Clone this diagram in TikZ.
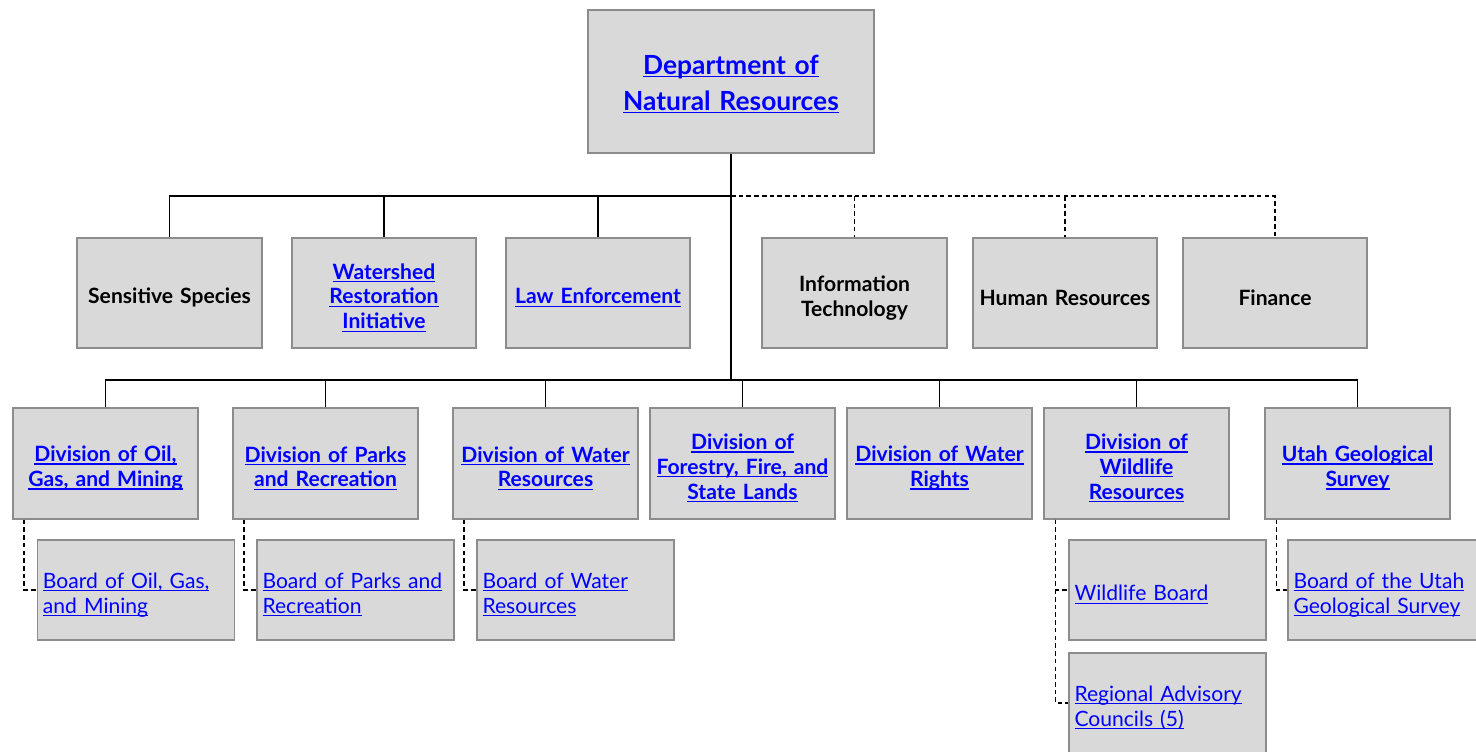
\documentclass[tikz,border=0pt]{standalone}
\usepackage{fontspec}
\setmainfont{Lato}
\usetikzlibrary{positioning}
\definecolor{box_gray}{RGB}{217,217,217}
\definecolor{edge_gray}{RGB}{140,140,140}
\definecolor{link_blue}{RGB}{0,0,255}
\newcommand{\lnk}[1]{\textcolor{link_blue}{\setbox0\hbox{#1}\rlap{\rule[-1.7pt]{\wd0}{0.7pt}}\box0}}

\begin{document}
\begin{tikzpicture}[x=0.2mm,y=-0.2mm,line width=1pt]
    \tikzstyle{unit}=[draw=edge_gray, line width=1pt, fill=box_gray, inner sep=0pt, minimum width=36.9mm, minimum height=22.1mm, text width=36mm, align=center, text=black, font=\bfseries\fontsize{12}{14.2}\selectfont, execute at begin node={\rule{0pt}{14.2pt}}]
    \tikzstyle{board}=[style=unit, minimum width=39.4mm, minimum height=20mm, text width=37.2mm, align=left, font=\fontsize{12}{14.2}\selectfont]
    \tikzstyle{staff}=[dash pattern=on 2.6pt off 1.8pt]

    \useasboundingbox (0,0) rectangle (1476,752);

    \node[unit, minimum width=57.2mm, minimum height=28.6mm, text width=55mm, font=\bfseries\fontsize{15}{20.5}\selectfont, execute at begin node={\rule{0pt}{14pt}}] (dnr) at (731,81.5) {\lnk{Department of}\\\lnk{Natural Resources}};

    % offices
    \node[unit] (ss)  at (169.5,293) {Sensitive Species};
    \node[unit] (wri) at (384,293)   {\lnk{Watershed}\\\lnk{Restoration}\\\lnk{Initiative}};
    \node[unit] (law) at (598,293)   {\lnk{Law Enforcement}};
    \node[unit] (it)  at (854.5,293) {Information\\Technology};
    \node[unit] (hr)  at (1065,293)  {Human Resources};
    \node[unit] (fin) at (1275,293)  {Finance};

    % divisions
    \node[unit] (ogm)      at (105.5,463.5)  {\lnk{Division of Oil,}\\\lnk{Gas, and Mining}};
    \node[unit] (parks)    at (325.5,463.5)  {\lnk{Division of Parks}\\\lnk{and Recreation}};
    \node[unit] (water)    at (545.5,463.5)  {\lnk{Division of Water}\\\lnk{Resources}};
    \node[unit] (forest)   at (742.5,463.5)  {\lnk{Division of}\\\lnk{Forestry, Fire, and}\\\lnk{State Lands}};
    \node[unit] (rights)   at (939.5,463.5)  {\lnk{Division of Water}\\\lnk{Rights}};
    \node[unit] (wildlife) at (1136.5,463.5) {\lnk{Division of}\\\lnk{Wildlife}\\\lnk{Resources}};
    \node[unit] (ugs)      at (1357.5,463.5) {\lnk{Utah Geological}\\\lnk{Survey}};

    % boards
    \node[board] (ogmb)   at (136,590)    {\lnk{Board of Oil, Gas,}\\\lnk{and Mining}};
    \node[board] (parksb) at (355.5,590)  {\lnk{Board of Parks and}\\\lnk{Recreation}};
    \node[board] (waterb) at (575.5,590)  {\lnk{Board of Water}\\\lnk{Resources}};
    \node[board] (wb)     at (1167.5,590) {\lnk{Wildlife Board}};
    \node[board] (rac)    at (1167.5,703) {\lnk{Regional Advisory}\\\lnk{Councils (5)}};
    \node[board] (ugsb)   at (1386.5,590) {\lnk{Board of the Utah}\\\lnk{Geological Survey}};

    \coordinate (top) at (731,196);
    \coordinate (mid) at (731,380);

    \draw (dnr.south) -- (mid);
    \draw (top) -| (ss.north);
    \foreach \n in {wri,law}
      \draw (top -| \n.north) -- (\n.north);
    \draw[staff] (top) -| (fin.north);
    \foreach \n in {it,hr}
      \draw[staff] (top -| \n.north) -- (\n.north);

    \draw (mid) -| (ogm.north);
    \draw (mid) -| (ugs.north);
    \foreach \n in {parks,water,forest,rights,wildlife}
      \draw (mid -| \n.north) -- (\n.north);

    \draw[staff] ([xshift=2.4mm]ogm.south west) |- (ogmb.west);
    \draw[staff] ([xshift=2.4mm]parks.south west) |- (parksb.west);
    \draw[staff] ([xshift=2.4mm]water.south west) |- (waterb.west);
    \draw[staff] ([xshift=2.4mm]wildlife.south west) |- (wb.west);
    \draw[staff] ([xshift=2.4mm]wildlife.south west) |- (rac.west);
    \draw[staff] ([xshift=2.4mm]ugs.south west) |- (ugsb.west);
\end{tikzpicture}
\end{document}
